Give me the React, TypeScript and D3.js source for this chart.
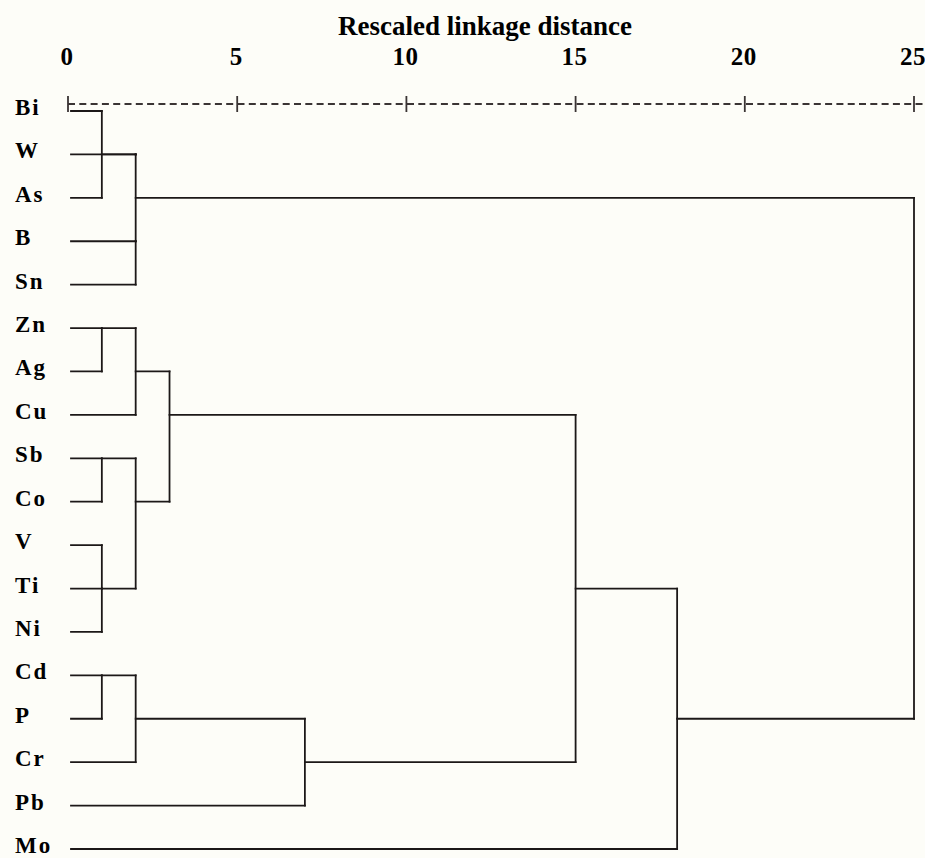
import React from 'react'
import * as d3 from 'd3'

// leaf order, top to bottom
const leaves = ['Bi', 'W', 'As', 'B', 'Sn', 'Zn', 'Ag', 'Cu', 'Sb', 'Co', 'V', 'Ti', 'Ni', 'Cd', 'P', 'Cr', 'Pb', 'Mo']

// merges: [left, right, rescaled distance]; 'm#' refers to an earlier merge
const merges: [string, string, number][] = [
  ['Bi', 'As', 1],
  ['W', 'm0', 2],
  ['B', 'Sn', 2],
  ['m1', 'm2', 2],
  ['Zn', 'Ag', 1],
  ['m4', 'Cu', 2],
  ['Sb', 'Co', 1],
  ['V', 'Ni', 1],
  ['m7', 'Ti', 1],
  ['m6', 'm8', 2],
  ['m5', 'm9', 3],
  ['Cd', 'P', 1],
  ['m11', 'Cr', 2],
  ['m12', 'Pb', 7],
  ['m10', 'm13', 15],
  ['m14', 'Mo', 18],
  ['m3', 'm15', 25],
]

const ticks = [0, 5, 10, 15, 20, 25]
const title = 'Rescaled linkage distance'

const W = 925, H = 858
const ink = '#1c1818'

export default function App() {
  const x = d3.scaleLinear().domain([0, 25]).range([68, 914])
  const y = d3.scalePoint<string>().domain(leaves).range([111, 849])
  const step = y.step()

  // node positions: row index (snapped like SPSS) and height
  const nodes: Record<string, { row: number; h: number }> = {}
  leaves.forEach((l, i) => { nodes[l] = { row: i, h: 0 } })
  const segs: { x1: number; y1: number; x2: number; y2: number }[] = []
  const rowY = (r: number) => 111 + r * step
  merges.forEach(([a, b, h], i) => {
    const A = nodes[a], B = nodes[b]
    const row = Math.floor((A.row + B.row) / 2)
    nodes['m' + i] = { row, h }
    ;[A, B].forEach(c => {
      const x0 = c.h === 0 ? x(0) + 3 : x(c.h)
      segs.push({ x1: x0, y1: rowY(c.row), x2: x(h), y2: rowY(c.row) })
    })
    segs.push({ x1: x(h), y1: rowY(Math.min(A.row, B.row)), x2: x(h), y2: rowY(Math.max(A.row, B.row)) })
  })

  const axisY = 104
  const serif = '"Liberation Serif", "Times New Roman", serif'

  return (
    <svg width={W} height={H} style={{ position: 'absolute', left: 0, top: 0 }} fontFamily={serif}>
      <rect x={0} y={0} width={W} height={H} fill="#fdfdf8" />
      <text x={485} y={35} textAnchor="middle" fontSize={27} fontWeight="bold">{title}</text>
      <line x1={x(0)} x2={W} y1={axisY} y2={axisY} stroke="#3a3434" strokeWidth={1.8} strokeDasharray="7,4.3" />
      {ticks.map(t => (
        <g key={t}>
          <line x1={x(t)} x2={x(t)} y1={axisY - 8} y2={axisY + 8} stroke="#3a3434" strokeWidth={1.8} />
          <text x={x(t) - 1} y={65} textAnchor="middle" fontSize={25} fontWeight="bold" letterSpacing={0.5}>{t}</text>
        </g>
      ))}
      {leaves.map(l => (
        <text key={l} x={15} y={(y(l) as number) + 4} fontSize={23} fontWeight="bold" letterSpacing={2}>{l}</text>
      ))}
      {segs.map((s, i) => (
        <line key={i} x1={s.x1} y1={s.y1} x2={s.x2} y2={s.y2} stroke={ink} strokeWidth={1.8} strokeLinecap="square" />
      ))}
    </svg>
  )
}
